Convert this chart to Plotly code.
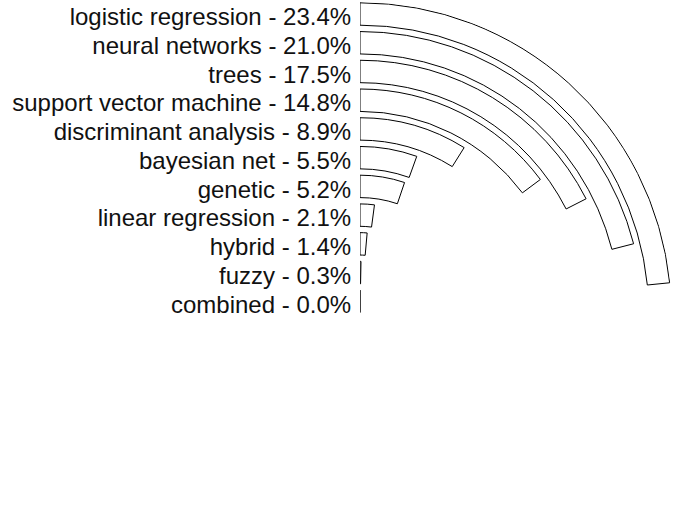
import plotly.graph_objects as go

categories = ["logistic regression", "neural networks", "trees", "support vector machine",
              "discriminant analysis", "bayesian net", "genetic", "linear regression",
              "hybrid", "fuzzy", "combined"]
values = [23.4, 21.0, 17.5, 14.8, 8.9, 5.5, 5.2, 2.1, 1.4, 0.3, 0.0]

labels = [f"{c} - {v:.1f}%\u2009" for c, v in zip(categories, values)]

W, H = 680, 529
cx, cy = 360, 314
R = 312.0
pitch = 28.73
ring_w = 22.4
r0 = 1.5

n = len(categories)
bases = [r0 + (n - 1 - i) * pitch for i in range(n)]
widths_deg = [v * 3.6 for v in values]
theta_c = [w / 2 for w in widths_deg]

fig = go.Figure()
fig.add_trace(go.Barpolar(
    r=[ring_w] * n,
    base=bases,
    theta=theta_c,
    width=[max(w, 0.05) for w in widths_deg],
    marker=dict(color="white", line=dict(color="black", width=1)),
    hoverinfo="skip",
    showlegend=False,
))

fig.update_layout(
    width=W, height=H,
    margin=dict(l=0, r=0, t=0, b=0),
    paper_bgcolor="white",
    plot_bgcolor="white",
    font=dict(family="Liberation Sans, Arial", size=24, color="#111111"),
    polar=dict(
        domain=dict(x=[cx / W, (cx + R) / W], y=[(H - cy) / H, (H - cy + R) / H]),
        sector=[0, 90],
        hole=0,
        bgcolor="white",
        angularaxis=dict(rotation=90, direction="clockwise", showgrid=False,
                         showticklabels=False, showline=False, ticks=""),
        radialaxis=dict(range=[0, R], angle=90, side="counterclockwise",
                        tickangle=90,
                        tickvals=[b + ring_w / 2 - 3.5 for b in bases],
                        ticktext=labels,
                        showgrid=False, showline=False, ticks="",
                        tickfont=dict(size=24, color="#111111")),
    ),
)

fig.write_html("out.html", config={"displayModeBar": False},
               post_script="document.body.style.margin='0';")
